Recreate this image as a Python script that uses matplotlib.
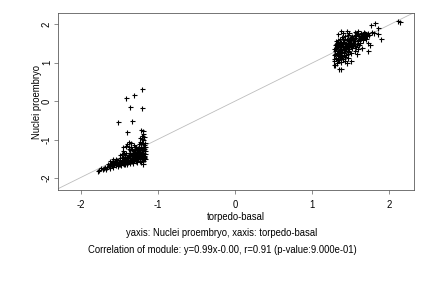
import matplotlib
matplotlib.use('Agg')
import matplotlib.pyplot as plt

plt.rcParams['font.family'] = ['Liberation Sans', 'DejaVu Sans']
plt.rcParams['axes.unicode_minus'] = False

# lower-left group (torpedo-basal, Nuclei proembryo)
low_x = [-1.78, -1.76, -1.72, -1.70, -1.68, -1.66, -1.65, -1.63, -1.62, -1.60,
         -1.60, -1.58, -1.57, -1.56, -1.55, -1.54, -1.53, -1.52, -1.51, -1.50,
         -1.50, -1.49, -1.48, -1.47, -1.46, -1.45, -1.45, -1.44, -1.43, -1.43,
         -1.42, -1.41, -1.41, -1.40, -1.40, -1.39, -1.38, -1.38, -1.37, -1.37,
         -1.36, -1.36, -1.35, -1.35, -1.34, -1.34, -1.33, -1.33, -1.32, -1.32,
         -1.31, -1.31, -1.30, -1.30, -1.29, -1.29, -1.28, -1.28, -1.27, -1.27,
         -1.26, -1.26, -1.25, -1.25, -1.24, -1.24, -1.23, -1.23, -1.23, -1.22,
         -1.22, -1.22, -1.21, -1.21, -1.21, -1.20, -1.20, -1.20, -1.20, -1.19,
         -1.19, -1.19, -1.18, -1.18, -1.18, -1.18, -1.17, -1.17, -1.17, -1.17,
         -1.19, -1.21, -1.23, -1.38, -1.35, -1.40, -1.45, -1.25, -1.27, -1.29,
         -1.21, -1.41, -1.37, -1.31, -1.52, -1.40, -1.22, -1.19, -1.34, -1.42,
         -1.21, -1.20, -1.18, -1.24, -1.26, -1.33, -1.47, -1.57,
         -1.64, -1.61, -1.59, -1.56, -1.53, -1.51, -1.48, -1.46, -1.44, -1.42,
         -1.39, -1.37, -1.35, -1.33, -1.31, -1.29, -1.27, -1.25, -1.23, -1.21,
         -1.19, -1.17, -1.28, -1.30, -1.32, -1.36, -1.39, -1.43, -1.48, -1.54,
         -1.26, -1.24, -1.22, -1.20, -1.18, -1.30, -1.34, -1.38, -1.44, -1.50,
         -1.58, -1.62, -1.74, -1.69]
low_y = [-1.82, -1.80, -1.75, -1.73, -1.75, -1.72, -1.62, -1.68, -1.74, -1.66,
         -1.58, -1.70, -1.62, -1.55, -1.66, -1.60, -1.52, -1.68, -1.58, -1.63,
         -1.48, -1.55, -1.66, -1.52, -1.60, -1.45, -1.30, -1.56, -1.62, -1.40,
         -1.50, -1.58, -1.35, -1.45, -1.62, -1.52, -1.40, -1.25, -1.56, -1.47,
         -1.35, -1.60, -1.50, -1.20, -1.42, -1.55, -1.30, -1.48, -1.60, -1.38,
         -1.15, -1.52, -1.44, -1.28, -1.56, -1.35, -1.47, -1.20, -1.40, -1.58,
         -1.30, -1.50, -1.12, -1.42, -1.55, -1.25, -1.35, -1.48, -1.05, -1.18,
         -1.40, -1.58, -1.28, -1.50, -0.98, -1.10, -1.35, -1.45, -1.22, -1.55,
         -1.02, -1.30, -1.15, -1.42, -0.92, -1.25, -1.38, -1.08, -1.50, -1.20,
         -0.85, -0.90, -0.95, -1.05, -1.10, -1.12, -1.20, -1.32, -1.25, -1.18,
         0.32, 0.08, -0.14, 0.16, -0.54, -0.79, -0.75, -0.77, -0.51, -1.17,
         -0.19, -1.62, -1.45, -1.36, -1.40, -1.52, -1.38, -1.58,
         -1.66, -1.62, -1.64, -1.60, -1.57, -1.64, -1.58, -1.48, -1.62, -1.55,
         -1.46, -1.36, -1.55, -1.40, -1.34, -1.42, -1.32, -1.36, -1.28, -1.38,
         -1.46, -1.30, -1.52, -1.38, -1.54, -1.28, -1.58, -1.50, -1.58, -1.50,
         -1.22, -1.44, -1.12, -1.28, -1.48, -1.20, -1.24, -1.18, -1.34, -1.40,
         -1.50, -1.56, -1.74, -1.70]

# upper-right group
high_x = [1.28, 1.29, 1.29, 1.30, 1.30, 1.30, 1.31, 1.31, 1.32, 1.32,
          1.32, 1.33, 1.33, 1.33, 1.34, 1.34, 1.34, 1.35, 1.35, 1.35,
          1.36, 1.36, 1.36, 1.37, 1.37, 1.37, 1.38, 1.38, 1.38, 1.38,
          1.39, 1.39, 1.40, 1.40, 1.41, 1.41, 1.42, 1.42, 1.43, 1.43,
          1.44, 1.44, 1.45, 1.45, 1.46, 1.46, 1.47, 1.47, 1.48, 1.48,
          1.49, 1.50, 1.50, 1.51, 1.52, 1.52, 1.53, 1.54, 1.55, 1.55,
          1.56, 1.57, 1.58, 1.59, 1.60, 1.61, 1.62, 1.63, 1.64, 1.65,
          1.66, 1.67, 1.68, 1.70, 1.72, 1.73, 1.73, 1.75, 1.77, 1.78,
          1.80, 1.82, 1.85, 1.85, 1.89, 2.11, 2.14, 1.55, 1.58, 1.60,
          1.50, 1.45, 1.40, 1.45, 1.48, 1.55, 1.60, 1.65, 1.42, 1.47,
          1.53, 1.57, 1.62, 1.31, 1.34, 1.36, 1.39, 1.44, 1.49, 1.51,
          1.28, 1.30, 1.31, 1.33, 1.35, 1.37, 1.39, 1.41, 1.43, 1.46,
          1.48, 1.50, 1.53, 1.56, 1.59, 1.62, 1.64, 1.67, 1.69, 1.71,
          1.29, 1.32, 1.34, 1.36, 1.40, 1.42, 1.44, 1.47, 1.52, 1.54,
          1.57, 1.61, 1.66, 1.70, 1.74, 1.40, 1.46, 1.51, 1.35, 1.38]
high_y = [0.95, 1.05, 1.20, 1.30, 1.45, 0.94, 1.12, 1.38, 1.25, 1.52,
          1.00, 1.75, 1.18, 1.42, 1.30, 1.58, 1.08, 0.84, 1.22, 1.48,
          1.36, 1.62, 1.15, 1.28, 1.54, 1.02, 0.84, 1.82, 1.40, 1.20,
          1.66, 1.32, 1.50, 1.10, 1.25, 1.58, 1.42, 1.70, 1.35, 1.05,
          1.52, 1.20, 1.62, 1.40, 1.30, 1.72, 1.48, 1.12, 1.56, 1.35,
          1.65, 1.45, 1.25, 1.58, 1.38, 1.70, 1.50, 1.62, 1.42, 1.80,
          1.55, 1.68, 1.48, 1.75, 1.60, 1.70, 1.52, 1.78, 1.65, 1.72,
          1.58, 1.80, 1.70, 1.75, 1.78, 1.50, 1.31, 1.45, 1.97, 1.80,
          1.78, 2.03, 1.91, 1.75, 1.62, 2.07, 2.06, 1.30, 1.22, 1.35,
          1.05, 0.98, 1.78, 1.82, 1.78, 1.72, 1.82, 1.38, 1.15, 1.28,
          1.62, 1.40, 1.66, 1.55, 1.45, 1.25, 1.48, 1.35, 1.52, 1.60,
          1.35, 1.22, 1.48, 1.10, 1.32, 1.44, 1.18, 1.36, 1.50, 1.22,
          1.42, 1.58, 1.46, 1.64, 1.56, 1.62, 1.74, 1.66, 1.76, 1.70,
          1.10, 1.40, 1.24, 1.54, 1.40, 1.30, 1.46, 1.60, 1.48, 1.56,
          1.76, 1.46, 1.68, 1.62, 1.72, 1.62, 1.40, 1.66, 1.06, 1.12]

slope = 0.99
intercept = 0.00

fig = plt.figure(figsize=(6, 4), dpi=72)
ax = fig.add_axes([0.134, 0.340, 0.824, 0.615])

ax.axline((0, intercept), slope=slope, color='#bbbbbb', lw=0.8, zorder=1)
ax.plot(low_x, low_y, '+', color='black', ms=5, mew=1.1, zorder=2)
ax.plot(high_x, high_y, '+', color='black', ms=5, mew=1.1, zorder=2)

ax.set_xlim(-2.30, 2.32)
ax.set_ylim(-2.31, 2.29)
ax.set_xticks([-2, -1, 0, 1, 2])
ax.set_yticks([-2, -1, 0, 1, 2])
ax.tick_params(labelsize=9.5, length=4, width=0.6, color='#444444')
ax.tick_params(axis='x', pad=6)
ax.tick_params(axis='y', pad=2)
for lab in ax.get_yticklabels():
    lab.set_rotation(90)
    lab.set_va('center')
for s in ax.spines.values():
    s.set_color('#555555')
    s.set_linewidth(0.8)

ax.set_xlabel('torpedo-basal', fontsize=9.5, labelpad=2)
ax.set_ylabel('Nuclei proembryo', fontsize=9.5, labelpad=0)

fig.text(0.514, 0.191, 'yaxis: Nuclei proembryo, xaxis: torpedo-basal',
         ha='center', va='center', fontsize=9.5)
fig.text(0.514, 0.132,
         'Correlation of module: y=0.99x-0.00, r=0.91 (p-value:9.000e-01)',
         ha='center', va='center', fontsize=9.5)

fig.savefig('out.png', dpi=72)
